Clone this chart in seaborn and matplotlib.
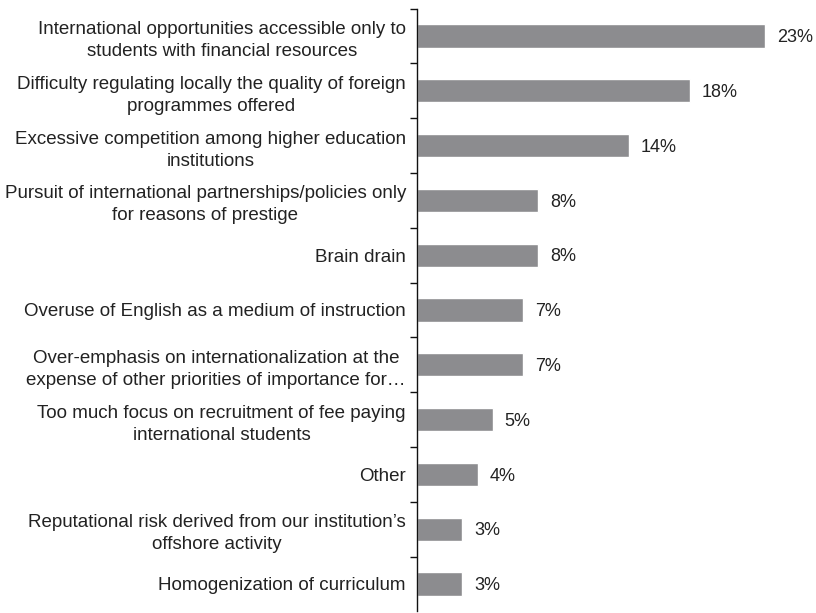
import matplotlib
matplotlib.use("Agg")
import matplotlib.pyplot as plt
import seaborn as sns
import pandas as pd
import numpy as np

categories = [
    "International opportunities accessible only to\nstudents with financial resources",
    "Difficulty regulating locally the quality of foreign\nprogrammes offered",
    "Excessive competition among higher education\ninstitutions",
    "Pursuit of international partnerships/policies only\nfor reasons of prestige",
    "Brain drain",
    "Overuse of English as a medium of instruction",
    "Over-emphasis on internationalization at the\nexpense of other priorities of importance for\u2026",
    "Too much focus on recruitment of fee paying\ninternational students",
    "Other",
    "Reputational risk derived from our institution\u2019s\noffshore activity",
    "Homogenization of curriculum",
]
values = [23, 18, 14, 8, 8, 7, 7, 5, 4, 3, 3]

df = pd.DataFrame({"risk": categories, "share": values})

sns.set_theme(style="white")
plt.rcParams["font.family"] = ["Liberation Sans", "DejaVu Sans"]

fig = plt.figure(figsize=(8.16, 6.13), dpi=100)
ax = fig.add_axes([417 / 816, 1.6 / 613, 399 / 816, 602.8 / 613])

sns.barplot(data=df, y="risk", x="share", orient="h", color="#8c8c8f",
            saturation=1, width=0.42, ax=ax)

ax.set_xlim(0, 399 / 15.15)
ax.set_ylim(len(categories) - 0.5, -0.5)

for i, v in enumerate(values):
    ax.text(v + 0.78, i + 0.03, f"{v}%", va="center", ha="left", fontsize=13, color="#222222")

for s in ["top", "right", "bottom"]:
    ax.spines[s].set_visible(False)
ax.spines["left"].set_color("#111111")
ax.spines["left"].set_linewidth(1.0)

ax.set_xticks([])
ax.set_xlabel("")
ax.set_ylabel("")
ax.set_yticks(range(len(categories)))
ax.set_yticklabels(categories, fontsize=13.5, color="#222222",
                   multialignment="center", linespacing=1.38)
ax.tick_params(axis="y", which="major", length=0, pad=8)
ax.set_yticks(np.arange(-0.5, len(categories) - 1, 1.0), minor=True)
ax.tick_params(axis="y", which="minor", length=5, width=1, color="#111111", left=True)

fig.savefig("out.png", dpi=100)
